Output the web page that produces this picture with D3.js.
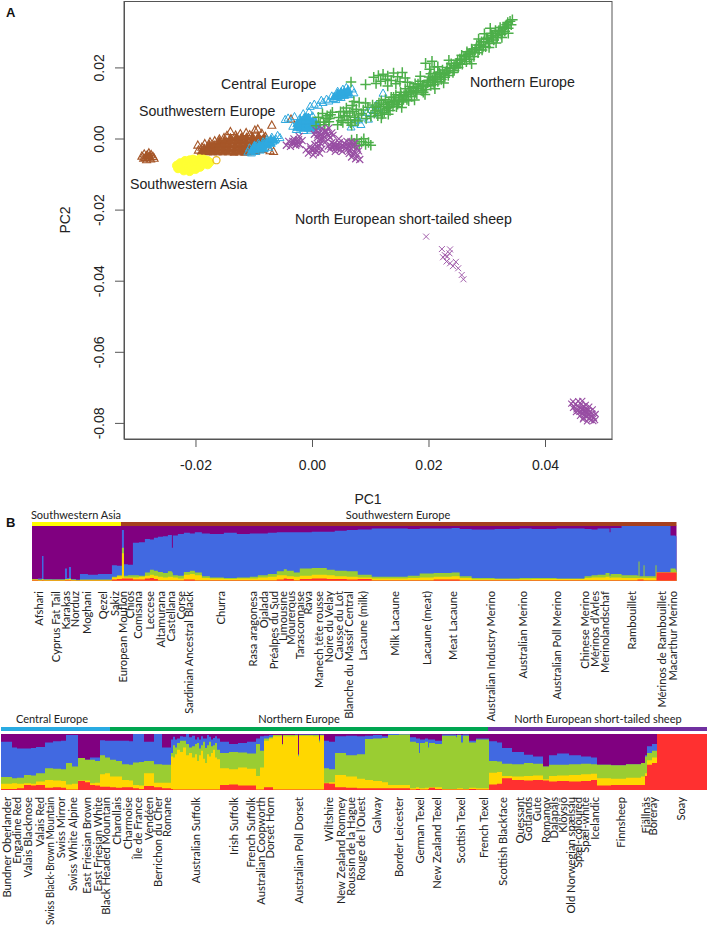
<!DOCTYPE html>
<html><head><meta charset="utf-8">
<script src="https://cdn.jsdelivr.net/npm/d3@7"></script>
<style>html,body{margin:0;padding:0;background:#fff}svg{display:block}</style>
</head><body><svg id="c" width="709" height="927"></svg>
<script>
// PCA scores, in PC units x 1000: [PC1, PC2]
const swEurope=[[-29.2,-4.9],[-28.8,-4.3],[-28.6,-5.3],[-28.3,-4.6],[-28,-4],[-27.9,-5.2],[-27.6,-4.5],[-27.3,-5],[-27.1,-5.5],[-28.4,-5.9],[-27.7,-5.7],[-28.9,-5.5],
[-19.6,-1.8],[-19.5,-3.2],[-18.9,-2.4],[-18.4,-1.4],[-17.5,-.9],[-16.7,-.6],[-15.9,-.1],[-15.1,.3],[-14.6,.9],[-14,2],[-13.1,1],[-12.3,1.4],[-11.3,1.7],[-10.7,1.1],[-9.8,2.4],[-9.3,2.7],[-8.6,1.5],[-8,.6],[-6.9,3.8],[-3.6,5.5],[-7.9,-1.6],[-7.2,-3.4],[-6.6,-3.6]];
const swEuropeCore=[[-28.4,-4.8],[-27.9,-4.8],
[-19,-3.6],[-18.4,-3.6],[-18.5,-2.6],[-17.8,-3.7],[-17.7,-2.5],[-17.6,-1.6],[-17,-3.7],[-16.9,-2.7],[-16.8,-1.7],[-16.2,-3.7],[-16.1,-2.6],[-16,-1.5],[-15.9,-.6],[-15.3,-3.7],[-15.2,-2.6],[-15.1,-1.6],[-15,-.5],[-14.4,-3.7],[-14.3,-2.7],[-14.2,-1.6],[-14.1,-.6],[-14,.3],[-13.4,-3.8],[-13.3,-2.7],[-13.2,-1.7],[-13.1,-.6],[-13,.4],[-12.5,-3.7],[-12.4,-2.6],[-12.3,-1.6],[-12.2,-.5],[-12.1,.5],[-11.6,-3.8],[-11.5,-2.7],[-11.4,-1.6],[-11.3,-.6],[-11.2,.5],[-10.6,-3.7],[-10.5,-2.6],[-10.4,-1.6],[-10.3,-.5],[-10.2,.6],[-9.6,-3.5],[-9.5,-2.5],[-9.4,-1.4],[-9.3,-.4],[-9.2,.7],[-8.6,-3],[-8.5,-1.9],[-8.4,-.8],[-8.3,.2]];
const swAsia=[[-23.2,-7.6],[-23,-8.4],[-22.6,-6.9],[-22.4,-7.8],[-22,-9],[-21.8,-6.3],[-21.6,-7.3],[-21.2,-8.2],[-21,-9.2],[-21,-6.1],[-20.7,-7.6],[-20.4,-5.9],[-20.2,-7],[-20,-8.6],[-19.9,-6.3],[-19.5,-7.3],[-19.3,-5.8],[-19,-6.5],[-18.6,-5.9],[-18.5,-7],[-18,-6.2],[-17.9,-7.3],[-19.2,-8],[-18.8,-6.9],[-17.6,-6.7]];
const swAsiaDark=[[-16.4,-6.1]];
const cEurope=[[-11,-3.7],[-10.7,-2.6],[-10.4,-4],[-10.2,-3],[-9.9,-1.9],[-9.7,-3.6],[-9.4,-2.5],[-9.2,-1.3],[-8.9,-3.2],[-8.7,-2],[-8.4,-.9],[-8.2,-2.8],[-7.9,-1.6],[-7.7,-.2],[-7.4,-2.4],[-7.1,-1.1],[-6.9,.4],[-6.7,-.7],[-6.2,-.1],[-5.9,.9],[-5.5,.3],
[-4.6,5.4],[-4.1,5.8],[-3.3,3.5],[-3,6.2],[-2.7,2.6],[-2.4,4.2],[-2.1,5.6],[-1.8,3.2],[-1.5,7],[-1.4,2.3],[-1.1,4.4],[-.9,6],[-.7,3],[-.4,5],[-.2,2.4],[.1,6.4],[.2,3.6],[.5,4.8],[.8,2.6],[1,3.8],[-.5,7.6],
[-.3,9.1],[.4,9.7],[1.1,9.4],[1.6,10.8],[1.9,10.2],[2.5,11.1],[2.9,10.6],[3.4,12],[3.7,11.3],[4.1,11],[4.4,13.3],[4.7,12],[5,11.6],[5.3,13.9],[5.6,12.8],[5.9,14.4],[6.2,13.4],[6.5,12.4],[6.9,14],[7.2,12.9],
[6.7,3.3],[7.2,4.4],[7.9,5.3],[8.4,4],[8.9,6.1],[9.4,7.4],[9.7,5.5],[10.2,8.2],[10.6,7],[11,9.4],[11.4,8.5],[12.2,12.8]];
const cEuropeCore=[[-10.4,-3.4],[-9.8,-3],[-9.8,-2],[-9.1,-2.9],[-9.1,-1.8],[-8.4,-2.6],[-8.4,-1.5],[-7.7,-1.8],[-7.7,-.8],[-7,-1.3],[-7,-.2],[-6.4,-.4],
[-2.6,3.2],[-2.6,4.2],[-2,3],[-2,4.1],[-2,5.1],[-1.3,3],[-1.3,4],[-1.3,5],[-1.3,6],[-.6,3],[-.6,4],[-.6,5],[-.6,6],[.1,3],[.1,4],[.1,5],[.7,3.4],[.7,4.4],
[3.8,11.8],[4.4,11.8],[4.4,12.8],[5,12.2],[5,13.2],[5.6,12.2],[5.6,13.2],[6.2,12.8],[6.2,13.8]];
const nEurope=[[.7,3.6],[1.1,6],[1.4,4.6],[1.8,7],[2.2,3.9],[2.4,5.6],[2.9,4.7],[3.2,6.7],[3.5,7.4],[4.4,3.9],[4.6,5.9],[4.9,7.5],[5.3,4.5],[5.6,6.4],[5.9,8.6],[6.2,5.2],[6.5,7.2],[6.8,3.7],[6.9,9.3],[7.3,6],[7.6,8.2],[7.9,4.9],[8.1,10.1],[8.5,7],[9.2,15.2],[6.7,15.9],
[10.7,7.1],[11,8.8],[11.3,6.4],[11.5,10],[11.8,8],[12.1,6.9],[12.3,9.6],[12.6,11],[12.8,8.5],[13.2,10.2],[13.4,7.9],[13.6,11.6],[13.9,9.1],[14.2,10.7],[14.4,12.3],[14.7,9.6],[15,11.4],[15.2,13],[15.5,10.3],[15.8,12.1],[16,14],[16.3,11],[16.5,12.9],[16.8,14.6],[17.1,11.8],[17.4,13.5],[17.7,15.4],[18,12.5],[18.3,14.2],[18.6,16.1],[18.9,13.4],[19.2,15],[19.5,13.8],[19.8,15.7],[20.1,17.3],[20.4,14.9],[20.7,16.6],[21,15.2],[21.3,17.5],[21.6,16],[21.9,18.4],[22.2,16.6],[22.5,18],[22.8,17.2],[23.1,19],[23.4,17.7],[23.7,19.7],[24.2,18.6],[24.4,20.5],
[10.6,17.2],[11,15.5],[11.4,17.7],[11.8,16.1],[12.2,18.1],[12.6,16.7],[13,14.8],[13,17.6],[13.6,16.3],[14,18.4],[14.4,15.4],[14.7,17.4],[15.1,16],[15.5,18.6],[16,17],[19.5,21.2],[20.2,19.5],[20.6,21.7],[21,20.1],
[24.4,19.1],[24.8,21.2],[25.1,20],[25.4,22.4],[25.8,20.9],[26.1,23],[26.5,21.6],[26.8,23.7],[27.1,22.3],[27.5,24.6],[27.8,23.1],[28.2,25.5],[28.5,24.1],[28.8,26.3],[29.2,24.9],[29.5,27.2],[29.8,25.8],[30.1,28],[30.5,26.7],[30.8,28.9],[31.2,27.7],[31.5,29.6],[31.8,28.4],[32.1,30.4],[32.5,29.3],[32.8,31.2],[33.1,30.2],[33.4,32],[33.7,31],[34,33],[34.2,32],[34.4,33.4],[27.4,21],
[6.8,-.4],[7.3,-1.4],[7.7,-.2],[8.1,-2],[8.5,-.9],[8.9,-.1],[9.2,-1.7],[9.7,-1.1],[10.1,-1.9]];
const nEuropeDense=[[2,4.6],[2.6,6.4],[3,5.6],[5,5],[5.4,7.6],[6,6.3],[6.6,4.4],[7,7.7],[7.4,5.2],[8,6.6],[8.8,8],[9.3,5.6],[9.6,8.8],[10.1,6.2],[10.4,9.4],[10.9,7.8],[11.4,9],[11.9,10.6],[12.4,7.4],[12.9,9.6],[13.3,8.8],[13.7,10.4],[14,11.6],[14.5,8.9],[14.9,10.5],[15.3,12],[15.7,11],[16.2,12.4],[16.6,10.6],[17,13.2],[17.4,14.4],[17.8,13],[18.2,15.3],[18.7,14.6],[19.1,13],[19.6,14.7],[20,16.4],[20.4,18.2],[20.8,15.8],[21.2,16.6],[21.6,18.6],[22,17.4],[22.4,19.3],[22.8,18.2],[23.2,20],[23.5,18.6],[23.9,21],[24.3,19.8],[24.7,20.4],[25,22],[25.4,21],[25.7,23.4],[26.2,22.2],[26.6,24.4],[27,23],[27.4,25.2],[27.9,24.2],[28.3,26.3],[28.7,25],[29.1,27.2],[29.4,25.9],[29.9,28.2],[30.3,27.2],[30.7,29.6],[31.1,28.4],[31.5,30.4],[31.9,29],[32.3,31.2],[32.7,30],[33.2,31.4],[33.6,32.6],[30.4,25.6],[31.6,26.9],[32.6,28.4],[33.7,29.6],[28.6,28],[29.6,29.5],[30.6,31],[22.6,15.6],[21.1,14],[19.4,12.4],[17.6,10.8],[15.4,8.7],[23.5,22],[21.6,20.2],[18.6,17.5],[16.4,15.8],[11.9,5.8],[13.1,6.8],[9.2,10],[7.2,10.4],[27.1,24],[26.4,23.2],[25.6,22.1],[24.9,21.2],[31,29],[32,30],[33,31],[30,28],[29,26.4],[28,25],[22,18],[21,17],[20,15.8],[19,15],[18,14],[17,12.8],[16,11.8],[15,10.8],[14,10],[13,9]];
const nShort=[[-4.4,-1.9],[-4,-.8],[-3.7,-2.2],[-3.4,-1.3],[-3.1,-.1],[-2.8,-1.9],[-2.5,-.7],[-2.2,.6],[-2.1,-1.7],[-1.7,-.6],[-3.3,-.8],[-2.9,-1.2],[-2.6,-1.5],[-2.3,-.3],
[-1,-3.2],[-.6,-4.1],[-.3,-2.3],[.1,-3.4],[.2,-4.6],[.5,-1.7],[.8,-3.5],[1,-2.6],[1.3,-4.1],[1.5,-1.4],[1.7,-3],[-.2,-3],[.4,-2.8],[.6,-3.9],[1.1,-1.9],
[.4,1.2],[.7,2.3],[.9,.2],[1.2,1.6],[1.4,-.4],[1.6,2.8],[1.9,.8],[2.2,2.1],[2.4,-.8],[2.6,1.1],[2.9,2.9],[3.1,.3],[3.4,1.6],[3.6,.9],[4.6,-.1],[1,1],[1.4,.9],[1.9,1.6],[2.2,.3],[2.5,1.9],[2.9,.8],[1.7,-.2],
[2.8,-2.1],[3.1,-3],[3.4,-1.2],[3.7,-2.4],[4,-3.6],[4.2,-1.8],[4.5,-2.9],[4.7,-1.2],[5,-2.3],[5.2,-3.6],[5.5,-1.3],[5.8,-2.7],[6,-.8],[6.3,-2],[6.5,-3.3],[6.7,-.9],[7,-2.3],[7.2,-3.6],[7.4,-1.3],[7.7,-2.6],[3.3,-2.2],[3.8,-1.6],[4.1,-2.6],[4.6,-2],[4.9,-3.1],[5.4,-2.2],[5.9,-1.8],[6.1,-3],[6.6,-1.7],[7.1,-1.5],
[6.4,-4.2],[6.8,-5.2],[7.1,-4.3],[7.5,-5.7],[7.8,-4.6],[8,-3.5],[8.2,-5.9]];
const nShortMid=[[19.6,-27.6],[22.3,-31.1],[23.7,-31.2],[22.8,-32.8],[22.5,-33.4],[23.2,-33.2],[23.6,-32.3],[23.1,-34.6],[23.7,-35.1],[24.2,-35.9],[24.7,-34.7],[25.1,-36.5],[25.7,-38.4],[26,-39.6]];
const nShortFar=[[44.5,-74.6],[44.8,-74],[45,-75.5],[45.2,-74.7],[45.4,-76.2],[45.6,-75.2],[45.7,-73.9],[45.9,-76.9],[46,-75.8],[46.2,-74.8],[46.3,-77.4],[46.4,-76.3],[46.6,-75.3],[46.7,-77.8],[46.8,-76.7],[47,-75.9],[47.1,-78.2],[47.2,-77.1],[47.4,-76.4],[47.5,-78.8],[47.6,-77.6],[47.7,-76.8],[47.9,-79.2],[48,-78.2],[48.1,-77.3],[48.3,-79.5],[48.4,-78.6],[46.5,-79],[47.2,-79.6],[48.6,-79.2],[44.8,-75.8],[45.3,-77],[46,-78],[46.6,-78.6],[46.4,-73.8],[47,-74.9],[47.6,-75.4],[48.2,-76.2],[48.7,-77.5],[45.6,-76.6],[46.2,-76.8],[46.9,-77.4],[47.4,-77.9],[46.5,-75.9],[47.1,-76.6]];
const pcTicksX=[-0.02,0,0.02,0.04];
const pcTicksY=[0.02,0,-0.02,-0.04,-0.06,-0.08];
const regionNames=["Central Europe","Southwestern Europe","Southwestern Asia","Northern Europe","North European short-tailed sheep"];

// Ancestry stacks: [individual rank, top of red, top of gold, top of green, top of blue] in %; purple fills to 100
const stackTop=[[0,1,2,2.5,3],[6,.5,1.5,2,4],[10,1,2,3,45],[11.5,.5,1.5,2,3],[20,.5,1.5,2,2.5],[33,1,2,3,22],[35,1,2,2.5,5],[37,1,3,4,25],[39,.5,1.5,2,3],[44,.5,1,1.5,2],[48,.5,1.5,2,12],[56,.5,1.5,2,11],[66,.5,1.5,2,12],[80,2,6,7,28],[85,3,8,10,27],[90,4,50,60,92],[92,4,6,9,30],[96,4,6,10,29],[101,2,6,10,69],[107,2,7,9,70],[113,4,9,15,76],[118,5,11,20,75],[122,3,9,18,78],[126,1,7,16,80],[131,1,6,14,81],[136,1,7,17,83],[140,1,7,15,60],[141,1,6,10,82],[146,1,4,9,85],[152,2,11,16,87],[158,2,12,18,86],[163,1,10,15,88],[170,1,5,8,86],[178,1,4,6,85],[192,1,3,5,87],[205,1,4,6,85],[218,1,4,7,86],[226,1,6,10,86],[236,1,7,12,87],[245,2,10,17,88],[252,4,10,21,88],[255,3,8,18,88],[262,1,7,15,88],[268,3,9,22,88],[280,4,11,23,89],[295,3,10,20,89],[303,3,8,18,91],[315,2,7,17,92],[326,3,6,11,93],[340,1,4,7,95],[362,1,4,7,95],[376,1,5,9,94],[388,1,6,13,95],[402,2,7,14,95],[420,2,8,15,96],[428,1,5,8,94],[440,1,2.5,5,93],[463,1,2.5,4,94],[488,1,2.5,5,95],[500,1,3,5,94],[525,1,3,4,95],[553,1,5,8,94],[560,1,6,10,93],[566,1,6,11,95],[574,1,7,14,95],[578,1,5,9,88],[579,1,6,12,96],[590,1,5,10,100],[606,2,5,9,100],[607,2,5,35,100],[608,2,5,8,100],[612,1,5,28,100],[613,1,5,8,100],[624,1,4,28,100],[625,15,15,15,100],[639,15,15,22,82],[644,15,16,20,81]];
const stackBottom=[[0,2,11,23,86],[11,2,12,21,76],[16,3,11,22,74],[23,9,12,27,74],[30,8,11,26,75],[35,9,15,30,77],[44,4,18,39,85],[52,5,17,38,87],[60,4,16,37,88],[65,1,10,48,98],[71,1,11,42,98],[77,16,17,57,57],[84,14,17,54,54],[89,9,12,54,58],[94,8,13,52,58],[99,6,28,62,89],[104,6,30,58,88],[109,5,24,54,88],[115,4,24,52,88],[121,5,18,46,88],[128,5,17,45,87],[132,3,9,49,100],[138,2,8,50,100],[143,7,30,52,86],[153,5,13,46,100],[161,3,13,45,76],[170,2,60,66,90],[172,1,58,80,95],[174,1,64,76,90],[176,1,72,84,92],[179,1,68,88,96],[182,1,76,88,95],[185,1,62,82,100],[188,1,66,76,94],[191,1,58,78,97],[194,1,64,82,90],[196,1,52,84,94],[198,1,62,74,90],[200,1,70,80,96],[202,1,56,86,92],[204,1,48,75,92],[206,1,64,80,98],[208,1,60,86,95],[210,1,66,78,90],[212,1,72,80,93],[214,1,58,84,96],[216,1,55,72,92],[219,9,39,66,86],[228,10,37,68,82],[237,8,40,67,84],[246,8,38,65,86],[255,1,25,82,92],[259,1,40,70,96],[263,5,88,92,97],[268,5,92,94,98],[272,1,96,98,98],[281,1,80,82,82],[282,1,96,98,98],[294,1,97,98,99],[297,1,60,62,64],[298,1,97,98,99],[312,1,96,98,99],[318,1,85,88,90],[319,1,97,98,99],[323,12,13,39,88],[328,11,14,37,86],[334,5,27,66,96],[345,4,24,62,97],[356,3,20,64,96],[364,3,18,91,97],[372,3,16,92,98],[381,3,14,93,96],[387,3,9,98,100],[398,3,9,99,100],[409,1,3,86,94],[415,2,5,84,92],[418,2,3,66,92],[419,1,3,84,90],[424,1,4,86,92],[427,2,4,76,90],[428,4,5,84,90],[434,2,5,82,88],[441,1,2,97,99],[455,1,2,94,98],[456,1,3,98,99],[460,1,3,85,98],[462,1,2,97,99],[468,2,4,85,88],[475,1,3,90,92],[488,10,31,52,87],[496,11,32,51,85],[501,21,25,47,75],[511,18,24,46,68],[523,17,25,48,63],[532,18,26,47,60],[542,17,19,42,42],[548,15,25,45,62],[556,16,26,45,65],[568,15,27,46,62],[580,16,28,47,60],[590,18,29,46,58],[596,8,21,45,45],[610,9,20,44,44],[625,9,22,46,46],[640,9,24,48,48],[644,25,30,60,62],[646,45,53,66,78],[651,48,58,70,82],[656,100,100,100,100]];
const stackColors=["#ff3030","#ffd700","#9acd32","#4169e1","#800080"];

const breedsTop=["Afshari","Cyprus Fat Tail","Karakas","Norduz","Moghani","Qezel","Sakiz","European Mouflon","Chios","Comisana","Leccese","Altamurana","Castellana","Corse","Sardinian Ancestral Black","Churra","Rasa aragonesa","Ojalada","Préalpes du Sud","Limousine","Mourerous","Tarasconnaise","Rava","Manech tête rousse","Noire du Velay","Causse du Lot","Blanche du Massif Central","Lacaune (milk)","Milk Lacaune","Lacaune (meat)","Meat Lacaune","Australian Industry Merino","Australian Merino","Australian Poll Merino","Chinese Merino","Mérinos d’Arles","Merinolandschaf","Rambouillet","Mérinos de Rambouillet","Macarthur Merino"];
const breedTopRank=[8,25,34.5,44,56,72,84,92,99,107,119,130,140,150,158,190,222,233,243,252,260,269,277,288,298,308,318,332,364,396,422,460,492,526,554,564,574,601,631,642];
const breedsBottom=["Bundner Oberlander","Engadine Red","Valais Blacknose","Valais Red","Swiss Black-Brown Mountain","Swiss Mirror","Swiss White Alpine","East Friesian Brown","East Friesian White","Black Headed Mountain","Charollais","Charmoise","Île de France","Vendéen","Berrichon du Cher","Romane","Australian Suffolk","Irish Suffolk","French Suffolk","Australian Coopworth","Dorset Horn","Australian Poll Dorset","Wiltshire","New Zealand Romney","Roussin de la Hague","Rouge de l’Ouest","Galway","Border Leicester","German Texel","New Zealand Texel","Scottish Texel","French Texel","Scottish Blackface","Ouessant","Gotlands","Gute","Romanov","Dalapäls","Klövsjö","Old Norwegian spælsau","Spæl-coloured","Spæl-white","Icelandic","Finnsheep","Fjällnäs","Boreray","Soay"];
const breedBottomRank=[6,16,27,39,49,60,72,86,97,105,116,127,137,148,157,166,195,233,250,260,269,298,328,340,350,360,376,398,419,436,460,483,502,519,527,536,545,553,562,570,577,584,594,620,645,652,680];
const groupsTop=["Southwestern Asia","Southwestern Europe"];
const groupsBottom=["Central Europe","Northern Europe","North European short-tailed sheep"];
const groupSpanTop=[[0,89],[89,645]];
const groupSpanBottom=[[0,109],[109,487],[487,706]];

const svg=d3.select("#c");
const sans="'Liberation Sans',Arial,sans-serif", cal="Lato,'Open Sans',sans-serif";
const ink="#222", axisInk="#555";
const tickFmt=v=>d3.format(".2f")(v).replace("\u2212","-");

// Panel A
const x=d3.scaleLinear().domain([-0.03227,0.05150]).range([124,612]);
const y=d3.scaleLinear().domain([-0.08453,0.03854]).range([439,1.5]);
const gA=svg.append("g");
const axX=gA.append("g").attr("transform","translate(0,439)").call(d3.axisBottom(x).tickValues(pcTicksX).tickFormat(tickFmt).tickSize(8).tickSizeOuter(0));
const axY=gA.append("g").attr("transform","translate(124,0)").call(d3.axisLeft(y).tickValues(pcTicksY).tickFormat(tickFmt).tickSize(9).tickSizeOuter(0));
gA.selectAll(".tick text").attr("font-family",sans).attr("font-size",14).attr("fill",ink);
gA.selectAll(".domain,.tick line").attr("stroke",axisInk).attr("stroke-width",1);
axX.selectAll(".tick text").attr("y",31).attr("dy",0);
axY.selectAll(".tick text").attr("transform","rotate(-90)").attr("x",0).attr("y",-20).attr("dy",0).attr("text-anchor","middle");
gA.append("rect").attr("x",124).attr("y",1.5).attr("width",488).attr("height",437.5).attr("fill","none").attr("stroke",axisInk);

const plot=(data,shape,size,col,sw,fill)=>gA.append("g").selectAll("path").data(data).join("path")
 .attr("transform",d=>`translate(${x(d[0]/1000)},${y(d[1]/1000)})`)
 .attr("d",d3.symbol().type(shape).size(size)).attr("fill",fill||"none").attr("stroke",col).attr("stroke-width",sw);
const plus={draw(c,s){const r=Math.sqrt(s)/2;c.moveTo(-r,0);c.lineTo(r,0);c.moveTo(0,-r);c.lineTo(0,r);}}, cross={draw(c,s){const r=Math.sqrt(s)/2;c.moveTo(-r,-r);c.lineTo(r,r);c.moveTo(-r,r);c.lineTo(r,-r);}};
const tri8={draw(c,s){const r=Math.sqrt(s)/2;c.moveTo(0,-r);c.lineTo(r,r*.8);c.lineTo(-r,r*.8);c.closePath();}};
plot(swEurope,tri8,64,"#a65628",1.1);
plot(swEuropeCore,tri8,64,"#a65628",1,"#a65628");
plot(swAsia,d3.symbolCircle,60,"#ffff33",1,"#ffff33");
plot(swAsiaDark,d3.symbolCircle,40,"#e8b923",1.2);
plot(cEurope,tri8,64,"#2fa9df",1);
plot(cEuropeCore,tri8,64,"#2fa9df",1,"#2fa9df");
plot(nEurope,plus,110,"#4daf4a",1.5);
plot(nEuropeDense,plus,110,"#4daf4a",1.5);
plot(nShort,cross,49,"#984ea3",1.2);
plot(nShortMid,cross,36,"#984ea3",.9);
plot(nShortFar,cross,36,"#984ea3",1.1);

const regionPos=[[221,89],[139,116],[130,189],[470,87],[295,224]];
regionNames.forEach((t,i)=>svg.append("text").attr("x",regionPos[i][0]).attr("y",regionPos[i][1]).attr("font-family",sans).attr("font-size",14.2).attr("fill",ink).text(t));
svg.append("text").attr("x",368).attr("y",504).attr("text-anchor","middle").attr("font-family",sans).attr("font-size",14).attr("fill",ink).text("PC1");
svg.append("text").attr("transform","translate(70,220) rotate(-90)").attr("text-anchor","middle").attr("font-family",sans).attr("font-size",14).attr("fill",ink).text("PC2");
svg.append("text").attr("x",6).attr("y",17).attr("font-family",sans).attr("font-weight","bold").attr("font-size",13).attr("fill","#111").text("A");
svg.append("text").attr("x",6).attr("y",527).attr("font-family",sans).attr("font-weight","bold").attr("font-size",13).attr("fill","#111").text("B");

// Panel B
function stackPanel(rows,names,ranks,spans,groups,spanCols,x0,x1,maxRank,top,bottom,barY,labelY,groupY,groupX){
 const sx=d3.scaleLinear().domain([0,maxRank]).range([x0,x1]);
 const sy=d3.scaleLinear().domain([0,100]).range([bottom,top]);
 const closed=[...rows,[maxRank,...rows[rows.length-1].slice(1)]];
 const g=svg.append("g");
 g.append("rect").attr("x",x0).attr("y",top).attr("width",x1-x0).attr("height",bottom-top).attr("fill",stackColors[4]);
 for(let k=3;k>=0;k--){
  g.append("path").datum(closed).attr("fill",stackColors[k])
   .attr("d",d3.area().curve(d3.curveStepAfter).x(d=>sx(d[0])).y0(bottom).y1(d=>sy(d[k+1])));
 }
 g.selectAll(".lab").data(names).join("text").attr("class","lab")
  .attr("transform",(d,i)=>`translate(${sx(ranks[i])+3.5},${labelY}) rotate(-90)`)
  .attr("text-anchor","end").attr("font-family",cal).attr("font-size",11.2).attr("fill",ink).text(d=>d)
  .each(function(){const room=927-labelY-2; if(this.getComputedTextLength()>room){this.setAttribute("textLength",room);this.setAttribute("lengthAdjust","spacingAndGlyphs");}});
 spans.forEach((s,i)=>{
  g.append("rect").attr("x",sx(s[0])).attr("y",barY).attr("width",sx(s[1])-sx(s[0])).attr("height",4).attr("fill",spanCols[i]);
  g.append("text").attr("x",groupX[i]).attr("y",groupY).attr("text-anchor","middle").attr("font-family",cal).attr("font-size",11).attr("fill",ink).text(groups[i]);
 });
}
stackPanel(stackTop,breedsTop,breedTopRank,groupSpanTop,groupsTop,["#ffff00","#a5401e"],32,676.5,645,525.7,580.7,522,591,519,[76,398]);
stackPanel(stackBottom,breedsBottom,breedBottomRank,groupSpanBottom,groupsBottom,["#29abe2","#00a651","#7030a0"],1,707,706,734,790,727,797,723,[52,299,598]);
</script></body></html>
